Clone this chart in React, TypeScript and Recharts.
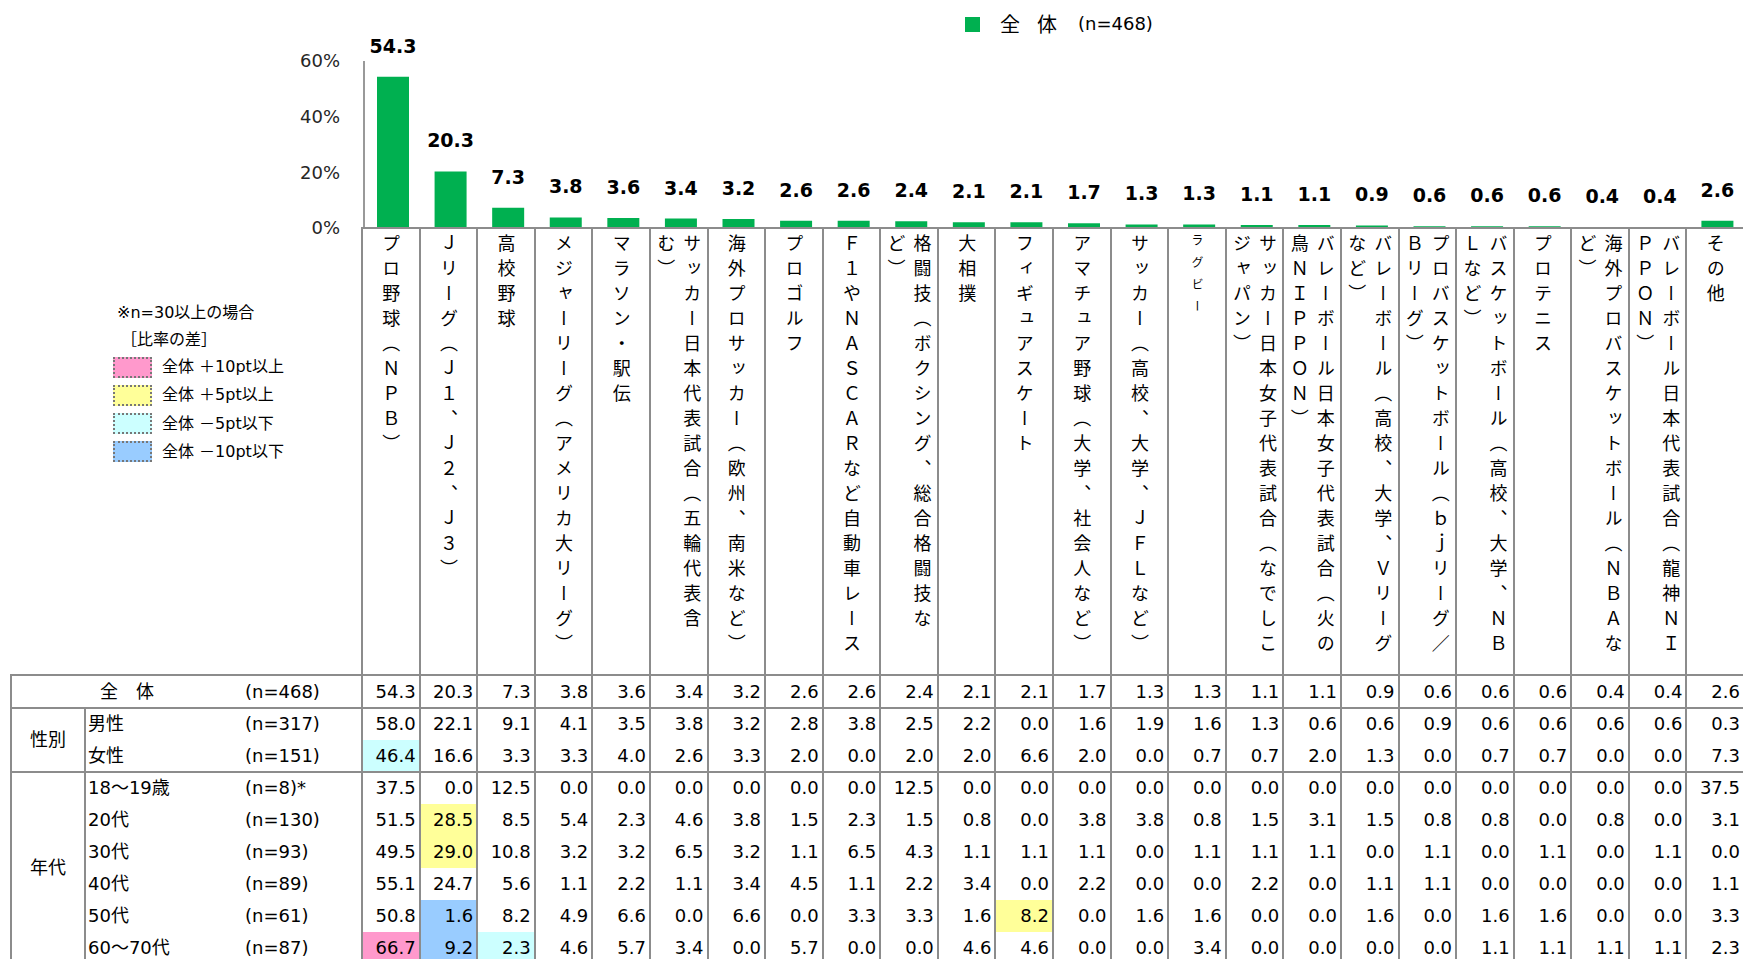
import React from "react";
import { BarChart, Bar, XAxis, YAxis, LabelList } from "recharts";

// 観戦したいスポーツ（全体 n=468）
const CATEGORIES = [
  "プロ野球（ＮＰＢ）",
  "Ｊリーグ（Ｊ１、Ｊ２、Ｊ３）",
  "高校野球",
  "メジャーリーグ（アメリカ大リーグ）",
  "マラソン・駅伝",
  "サッカー日本代表試合（五輪代表含む）",
  "海外プロサッカー（欧州、南米など）",
  "プロゴルフ",
  "Ｆ１やＮＡＳＣＡＲなど自動車レース",
  "格闘技（ボクシング、総合格闘技など）",
  "大相撲",
  "フィギュアスケート",
  "アマチュア野球（大学、社会人など）",
  "サッカー（高校、大学、ＪＦＬなど）",
  "ラグビー",
  "サッカー日本女子代表試合（なでしこジャパン）",
  "バレーボール日本女子代表試合（火の鳥ＮＩＰＰＯＮ）",
  "バレーボール（高校、大学、Ｖリーグなど）",
  "プロバスケットボール（ｂｊリーグ／Ｂリーグ）",
  "バスケットボール（高校、大学、ＮＢＬなど）",
  "プロテニス",
  "海外プロバスケットボール（ＮＢＡなど）",
  "バレーボール日本代表試合（龍神ＮＩＰＰＯＮ）",
  "その他",
];

const OVERALL = [54.3, 20.3, 7.3, 3.8, 3.6, 3.4, 3.2, 2.6, 2.6, 2.4, 2.1, 2.1, 1.7, 1.3, 1.3, 1.1, 1.1, 0.9, 0.6, 0.6, 0.6, 0.4, 0.4, 2.6];
const MALE = [58.0, 22.1, 9.1, 4.1, 3.5, 3.8, 3.2, 2.8, 3.8, 2.5, 2.2, 0.0, 1.6, 1.9, 1.6, 1.3, 0.6, 0.6, 0.9, 0.6, 0.6, 0.6, 0.6, 0.3];
const FEMALE = [46.4, 16.6, 3.3, 3.3, 4.0, 2.6, 3.3, 2.0, 0.0, 2.0, 2.0, 6.6, 2.0, 0.0, 0.7, 0.7, 2.0, 1.3, 0.0, 0.7, 0.7, 0.0, 0.0, 7.3];
const AGE_18_19 = [37.5, 0.0, 12.5, 0.0, 0.0, 0.0, 0.0, 0.0, 0.0, 12.5, 0.0, 0.0, 0.0, 0.0, 0.0, 0.0, 0.0, 0.0, 0.0, 0.0, 0.0, 0.0, 0.0, 37.5];
const AGE_20S = [51.5, 28.5, 8.5, 5.4, 2.3, 4.6, 3.8, 1.5, 2.3, 1.5, 0.8, 0.0, 3.8, 3.8, 0.8, 1.5, 3.1, 1.5, 0.8, 0.8, 0.0, 0.8, 0.0, 3.1];
const AGE_30S = [49.5, 29.0, 10.8, 3.2, 3.2, 6.5, 3.2, 1.1, 6.5, 4.3, 1.1, 1.1, 1.1, 0.0, 1.1, 1.1, 1.1, 0.0, 1.1, 0.0, 1.1, 0.0, 1.1, 0.0];
const AGE_40S = [55.1, 24.7, 5.6, 1.1, 2.2, 1.1, 3.4, 4.5, 1.1, 2.2, 3.4, 0.0, 2.2, 0.0, 0.0, 2.2, 0.0, 1.1, 1.1, 0.0, 0.0, 0.0, 0.0, 1.1];
const AGE_50S = [50.8, 1.6, 8.2, 4.9, 6.6, 0.0, 6.6, 0.0, 3.3, 3.3, 1.6, 8.2, 0.0, 1.6, 1.6, 0.0, 0.0, 1.6, 0.0, 1.6, 1.6, 0.0, 0.0, 3.3];
const AGE_60_70S = [66.7, 9.2, 2.3, 4.6, 5.7, 3.4, 0.0, 5.7, 0.0, 0.0, 4.6, 4.6, 0.0, 0.0, 3.4, 0.0, 0.0, 0.0, 0.0, 1.1, 1.1, 1.1, 1.1, 2.3];

const SEG_LABELS = ["男性", "女性", "18～19歳", "20代", "30代", "40代", "50代", "60～70代"];
const SEG_N = [317, 151, 8, 130, 93, 89, 61, 87];
const SEG_VALUES = [MALE, FEMALE, AGE_18_19, AGE_20S, AGE_30S, AGE_40S, AGE_50S, AGE_60_70S];
const Y_TICKS = [0, 20, 40, 60];
const SMALL_LABELS = ["ラグビー"];

const data = CATEGORIES.map((name, i) => ({ name, value: OVERALL[i] }));

// geometry
const CHART_W = 1746;
const PLOT_LEFT = 364;
const COL_W = (CHART_W - PLOT_LEFT) / CATEGORIES.length;
const TABLE_X = 362;
const TABLE_LEFT = 11;
const GROUP_RIGHT = 85;
const HEADER_TOP = 228;
const HEADER_BOTTOM = 675;
const OVERALL_BOTTOM = 708;
const ROW_H = 32;
const TABLE_BOTTOM = OVERALL_BOTTOM + ROW_H * SEG_LABELS.length;
const RIGHT_END = TABLE_X + COL_W * CATEGORIES.length;
const LINE = "#8c8c8c";

const GREEN = "#00B050";
const PINK = "#FF99CC";
const YELLOW = "#FFFF99";
const CYAN = "#CCFFFF";
const BLUE = "#99CCFF";

const LATIN = "'DejaVu Sans', 'Noto Sans CJK JP', sans-serif";
const CJK = "'Noto Sans CJK JP', sans-serif";

function cellColor(v: number, base: number, n: number) {
  if (n < 30) return undefined;
  const d = Math.round((v - base) * 10) / 10;
  if (d >= 10) return PINK;
  if (d >= 5) return YELLOW;
  if (d <= -10) return BLUE;
  if (d <= -5) return CYAN;
  return undefined;
}

function wrapVertical(label: string, cap: number) {
  const lines: string[][] = [];
  let cur: string[] = [];
  for (const ch of Array.from(label)) {
    if (cur.length >= cap) {
      if (ch === "）") {
        const last = cur.pop() as string;
        lines.push(cur);
        cur = [last];
      } else {
        lines.push(cur);
        cur = [];
      }
    }
    cur.push(ch);
  }
  lines.push(cur);
  return lines.map((l) => l.join(""));
}

function CategoryTick(props: any) {
  const { x, y, payload } = props;
  const label: string = payload.value;
  const small = SMALL_LABELS.includes(label);
  const lines = wrapVertical(label, 17);
  return (
    <g>
      {lines.map((line, k) => (
        <text
          key={k}
          x={x - 1.5 + ((lines.length - 1) / 2 - k) * 26}
          y={y + 6}
          fontSize={small ? 12 : 18}
          letterSpacing={small ? 10 : 7}
          fill="#000"
          fontFamily={CJK}
          style={{ writingMode: "vertical-rl" }}
        >
          {line}
        </text>
      ))}
    </g>
  );
}

const abs = (s: React.CSSProperties): React.CSSProperties => ({ position: "absolute", ...s });

function HLine({ x1, x2, y }: { x1: number; x2: number; y: number }) {
  return <div style={abs({ left: x1 - 1, top: y - 1, width: x2 - x1 + 2, height: 2, background: LINE })} />;
}
function VLine({ x, y1, y2 }: { x: number; y1: number; y2: number }) {
  return <div style={abs({ left: x - 1, top: y1 - 1, width: 2, height: y2 - y1 + 2, background: LINE })} />;
}

function RowText({ top, height, values, label, n, base }: any) {
  return (
    <>
      {values.map((v: number, i: number) => {
        const bg = base ? cellColor(v, base[i], n) : undefined;
        return (
          <div
            key={i}
            style={abs({
              left: TABLE_X + i * COL_W,
              top,
              width: COL_W,
              height,
              lineHeight: `${height}px`,
              background: bg,
              textAlign: "right",
              paddingRight: 4,
              boxSizing: "border-box",
              fontSize: 18,
              fontFamily: LATIN,
              color: "#000",
            })}
          >
            {v.toFixed(1)}
          </div>
        );
      })}
      {label}
    </>
  );
}

function DataTable() {
  const textStyle = (left: number, top: number, height: number): React.CSSProperties =>
    abs({ left, top, height, lineHeight: `${height}px`, fontSize: 18, fontFamily: LATIN, color: "#000", whiteSpace: "nowrap" });
  return (
    <>
      <RowText
        top={HEADER_BOTTOM}
        height={OVERALL_BOTTOM - HEADER_BOTTOM}
        values={OVERALL}
        label={
          <>
            <div style={textStyle(100, HEADER_BOTTOM, OVERALL_BOTTOM - HEADER_BOTTOM)}>全　体</div>
            <div style={textStyle(245, HEADER_BOTTOM, OVERALL_BOTTOM - HEADER_BOTTOM)}>(n=468)</div>
          </>
        }
      />
      {SEG_LABELS.map((lab, r) => {
        const top = OVERALL_BOTTOM + r * ROW_H;
        return (
          <RowText
            key={lab}
            top={top}
            height={ROW_H}
            values={SEG_VALUES[r]}
            n={SEG_N[r]}
            base={OVERALL}
            label={
              <>
                <div style={textStyle(88, top, ROW_H)}>{lab}</div>
                <div style={textStyle(245, top, ROW_H)}>{`(n=${SEG_N[r]})${SEG_N[r] < 30 ? "*" : ""}`}</div>
              </>
            }
          />
        );
      })}
      <div style={{ ...textStyle(TABLE_LEFT, OVERALL_BOTTOM, 2 * ROW_H), width: GROUP_RIGHT - TABLE_LEFT, textAlign: "center" }}>性別</div>
      <div style={{ ...textStyle(TABLE_LEFT, OVERALL_BOTTOM + 2 * ROW_H, 6 * ROW_H), width: GROUP_RIGHT - TABLE_LEFT, textAlign: "center" }}>年代</div>

      {CATEGORIES.map((_, i) => (
        <VLine key={i} x={TABLE_X + i * COL_W} y1={HEADER_TOP} y2={TABLE_BOTTOM} />
      ))}
      <VLine x={RIGHT_END} y1={HEADER_TOP} y2={TABLE_BOTTOM} />
      <HLine x1={TABLE_X} x2={RIGHT_END} y={HEADER_TOP} />
      <HLine x1={TABLE_LEFT} x2={RIGHT_END} y={HEADER_BOTTOM} />
      <HLine x1={TABLE_LEFT} x2={RIGHT_END} y={OVERALL_BOTTOM} />
      <HLine x1={TABLE_LEFT} x2={RIGHT_END} y={OVERALL_BOTTOM + 2 * ROW_H} />
      <HLine x1={TABLE_LEFT} x2={RIGHT_END} y={TABLE_BOTTOM} />
      <VLine x={TABLE_LEFT} y1={HEADER_BOTTOM} y2={TABLE_BOTTOM} />
      <VLine x={GROUP_RIGHT} y1={OVERALL_BOTTOM} y2={TABLE_BOTTOM} />
    </>
  );
}

const KEY_ITEMS = [
  { color: PINK, text: "全体 ＋10pt以上" },
  { color: YELLOW, text: "全体 ＋5pt以上" },
  { color: CYAN, text: "全体 －5pt以下" },
  { color: BLUE, text: "全体 －10pt以下" },
];

function DiffKey() {
  const t = (left: number, cy: number): React.CSSProperties =>
    abs({ left, top: cy - 12, height: 24, lineHeight: "24px", fontSize: 16, fontFamily: LATIN, color: "#000", whiteSpace: "nowrap" });
  return (
    <>
      <div style={t(117, 313)}>※n=30以上の場合</div>
      <div style={t(121, 340)}>［比率の差］</div>
      {KEY_ITEMS.map((k, i) => {
        const cy = 367 + i * 28.3;
        return (
          <React.Fragment key={k.text}>
            <div
              style={abs({ left: 113, top: cy - 10.5, width: 39, height: 21, background: k.color, border: "2px dotted #777", boxSizing: "border-box" })}
            />
            <div style={t(162, cy)}>{k.text}</div>
          </React.Fragment>
        );
      })}
    </>
  );
}

function TopLegend() {
  const cy = 24;
  return (
    <>
      <div style={abs({ left: 965, top: cy - 7.5, width: 15, height: 15, background: GREEN })} />
      <div style={abs({ left: 1000, top: cy - 13, height: 26, lineHeight: "26px", fontSize: 20, fontFamily: CJK, color: "#000" })}>全</div>
      <div style={abs({ left: 1037, top: cy - 13, height: 26, lineHeight: "26px", fontSize: 20, fontFamily: CJK, color: "#000" })}>体</div>
      <div style={abs({ left: 1078, top: cy - 13, height: 26, lineHeight: "26px", fontSize: 18, fontFamily: LATIN, color: "#000" })}>(n=468)</div>
    </>
  );
}

export default function App() {
  return (
    <div style={{ position: "relative", width: 1743, height: 959, overflow: "hidden", background: "#fff" }}>
      <style>{`body{margin:0;}`}</style>
      <div style={abs({ left: 0, top: 0 })}>
        <BarChart
          width={CHART_W}
          height={HEADER_BOTTOM}
          data={data}
          margin={{ top: 61, right: 0, bottom: 0, left: PLOT_LEFT - 60 }}
        >
          <YAxis
            width={60}
            domain={[0, 60]}
            ticks={Y_TICKS}
            interval={0}
            tickFormatter={(v: number) => `${v}%`}
            axisLine={{ stroke: "#999", strokeWidth: 2 }}
            tickLine={false}
            tickSize={0}
            tickMargin={24}
            tick={{ fontSize: 18, fontFamily: LATIN, fill: "#262626" }}
          />
          <XAxis
            dataKey="name"
            interval={0}
            height={HEADER_BOTTOM - HEADER_TOP}
            axisLine={false}
            tickLine={false}
            tickSize={0}
            tickMargin={0}
            tick={(p: any) => <CategoryTick {...p} />}
          />
          <Bar dataKey="value" fill={GREEN} barSize={32} isAnimationActive={false}>
            <LabelList
              dataKey="value"
              position="top"
              offset={24}
              formatter={(v: any) => Number(v).toFixed(1)}
              fill="#000"
              fontSize={19}
              fontWeight="bold"
              fontFamily="'DejaVu Sans', sans-serif"
            />
          </Bar>
        </BarChart>
      </div>
      <DataTable />
      <DiffKey />
      <TopLegend />
    </div>
  );
}
